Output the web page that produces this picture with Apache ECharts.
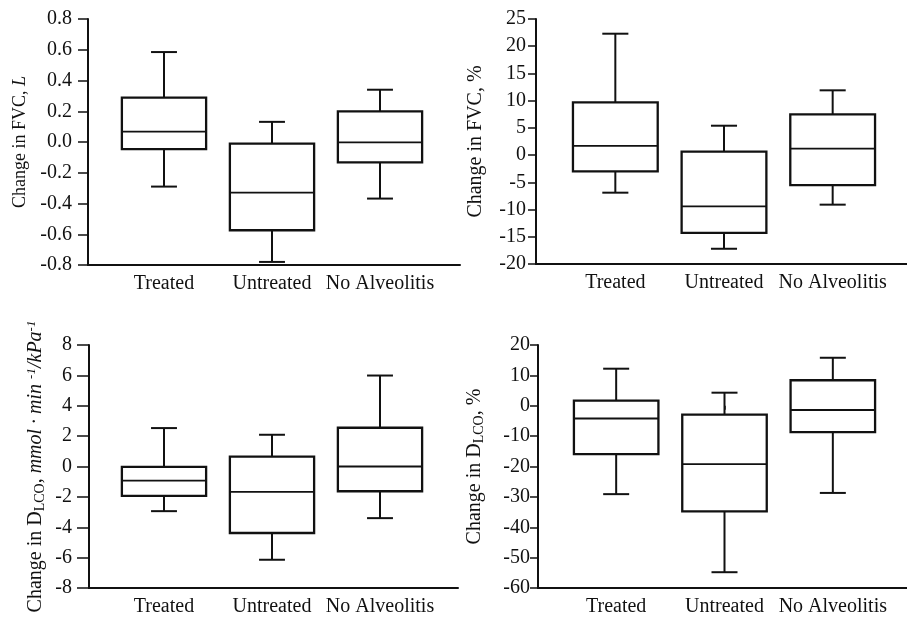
<!DOCTYPE html>
<html><head><meta charset="utf-8">
<script src="https://cdn.jsdelivr.net/npm/echarts@6/dist/echarts.min.js"></script>
<style>html,body{margin:0;padding:0;background:#fff}#c{width:907px;height:620px}</style>
</head><body><div id="c"></div>
<script>
const categories = ['Treated', 'Untreated', 'No Alveolitis'];
// each row: [low whisker, Q1, median, Q3, high whisker]
const fvcLitres = [[-0.29, -0.046, 0.068, 0.288, 0.585], [-0.78, -0.574, -0.329, -0.01, 0.131], [-0.368, -0.133, -0.003, 0.199, 0.34]];
const fvcPercent = [[-6.9, -3.0, 1.7, 9.7, 22.3], [-17.2, -14.3, -9.4, 0.65, 5.4], [-9.1, -5.5, 1.2, 7.5, 11.9]];
const dlcoAbsolute = [[-2.94, -1.94, -0.93, -0.03, 2.53], [-6.14, -4.38, -1.67, 0.65, 2.09], [-3.4, -1.63, 0.0, 2.55, 5.99]];
const dlcoPercent = [[-29.1, -15.9, -4.2, 1.7, 12.2], [-54.8, -34.8, -19.2, -2.9, 4.3], [-28.7, -8.7, -1.4, 8.4, 15.8]];
// y-axis ticks: [min, max, interval]
const fvcLitresTicks = [-0.8, 0.8, 0.2];
const fvcPercentTicks = [-20, 25, 5];
const dlcoAbsoluteTicks = [-8, 8, 2];
const dlcoPercentTicks = [-60, 20, 10];

const FONT = "'Liberation Serif','Times New Roman',serif";
const INK = '#111';

const panels = [
  {data: fvcLitres, ticks: fvcLitresTicks, dec: 1, axisX: 88, top: 19, height: 246, left: 110, width: 324, lineRight: 460,
   name: '{n|Change in FVC, }{i|L}', nameSize: 18, nameGap: 58, labelMargin: 16, tickLen: 10},
  {data: fvcPercent, ticks: fvcPercentTicks, dec: 0, axisX: 536, top: 19, height: 245, left: 561, width: 326, lineRight: 907,
   name: '{n|Change in FVC, %}', nameSize: 20, nameGap: 49, labelMargin: 10, tickLen: 8},
  {data: dlcoAbsolute, ticks: dlcoAbsoluteTicks, dec: 0, axisX: 89, top: 345, height: 243, left: 110, width: 324, lineRight: 458,
   name: '{n|Change in D}{s|LCO}{n|, }{i|mmol · min }{p|-1}{i|/kPa}{p|-1}', nameSize: 20, nameGap: 42, labelMargin: 17, tickLen: 12},
  {data: dlcoPercent, ticks: dlcoPercentTicks, dec: 0, axisX: 538, top: 345, height: 243, left: 562, width: 325, lineRight: 907,
   name: '{n|Change in D}{s|LCO}{n|, %}', nameSize: 20, nameGap: 52, labelMargin: 8, tickLen: 8}
];

function renderBox(params, api) {
  const i = api.value(0);
  const low = api.coord([i, api.value(1)]);
  const q1 = api.coord([i, api.value(2)]);
  const med = api.coord([i, api.value(3)]);
  const q3 = api.coord([i, api.value(4)]);
  const high = api.coord([i, api.value(5)]);
  const band = api.size([1, 0])[0];
  const x = low[0];
  const hw = band * 0.39;
  const cw = band * 0.12;
  const ws = {stroke: INK, lineWidth: 2};
  return {type: 'group', children: [
    {type: 'line', shape: {x1: x, y1: q3[1], x2: x, y2: high[1]}, style: ws},
    {type: 'line', shape: {x1: x - cw, y1: high[1], x2: x + cw, y2: high[1]}, style: ws},
    {type: 'line', shape: {x1: x, y1: q1[1], x2: x, y2: low[1]}, style: ws},
    {type: 'line', shape: {x1: x - cw, y1: low[1], x2: x + cw, y2: low[1]}, style: ws},
    {type: 'rect', shape: {x: x - hw, y: q3[1], width: 2 * hw, height: q1[1] - q3[1]}, style: {fill: '#fff', stroke: INK, lineWidth: 2.3}},
    {type: 'line', shape: {x1: x - hw, y1: med[1], x2: x + hw, y2: med[1]}, style: {stroke: INK, lineWidth: 1.8}}
  ]};
}

const grid = [], xAxis = [], yAxis = [], series = [];
panels.forEach((p, k) => {
  grid.push({left: p.left, top: p.top, width: p.width, height: p.height});
  xAxis.push({
    type: 'category', gridIndex: k, data: categories, boundaryGap: true,
    axisLine: {show: false},
    axisTick: {show: true, alignWithLabel: true, length: 4, lineStyle: {color: INK, width: 1.5}},
    axisLabel: {color: INK, fontFamily: FONT, fontSize: 20, margin: 9, interval: 0},
    splitLine: {show: false}
  });
  const sz = p.nameSize;
  yAxis.push({
    type: 'value', gridIndex: k, min: p.ticks[0], max: p.ticks[1], interval: p.ticks[2],
    offset: p.left - p.axisX,
    axisLine: {show: true, lineStyle: {color: INK, width: 2}},
    axisTick: {show: true, length: p.tickLen, lineStyle: {color: INK, width: 1.5}},
    axisLabel: {color: INK, fontFamily: FONT, fontSize: 20, margin: p.labelMargin,
      formatter: v => Number(v).toFixed(p.dec)},
    splitLine: {show: false},
    name: p.name, nameLocation: 'middle', nameGap: p.nameGap,
    nameTextStyle: {
      color: INK, fontFamily: FONT, fontSize: sz,
      rich: {
        n: {fontFamily: FONT, fontSize: sz, color: INK, lineHeight: sz + 2},
        i: {fontFamily: FONT, fontSize: sz, fontStyle: 'italic', color: INK, lineHeight: sz + 2},
        s: {fontFamily: FONT, fontSize: Math.round(sz * 0.72), color: INK, verticalAlign: 'bottom', lineHeight: sz * 0.8},
        p: {fontFamily: FONT, fontSize: Math.round(sz * 0.65), fontStyle: 'italic', color: INK, verticalAlign: 'top', lineHeight: sz * 0.65}
      }
    }
  });
  series.push({
    type: 'custom', xAxisIndex: k, yAxisIndex: k,
    data: p.data.map((d, i) => [i].concat(d)),
    encode: {x: 0, y: [1, 2, 3, 4, 5]},
    renderItem: renderBox, clip: false, silent: true
  });
});
// full-length x axis baselines
panels.forEach((p, k) => {
  const gi = grid.length;
  grid.push({left: p.axisX, top: p.top, width: p.lineRight - p.axisX, height: p.height});
  xAxis.push({type: 'value', gridIndex: gi, min: 0, max: 1,
    axisLine: {show: true, onZero: false, lineStyle: {color: INK, width: 2}},
    axisTick: {show: false}, axisLabel: {show: false}, splitLine: {show: false}});
  yAxis.push({type: 'value', gridIndex: gi, show: false, min: 0, max: 1});
});

const chart = echarts.init(document.getElementById('c'), null, {renderer: 'canvas'});
chart.setOption({animation: false, backgroundColor: '#fff', grid, xAxis, yAxis, series});
</script>
</body></html>
